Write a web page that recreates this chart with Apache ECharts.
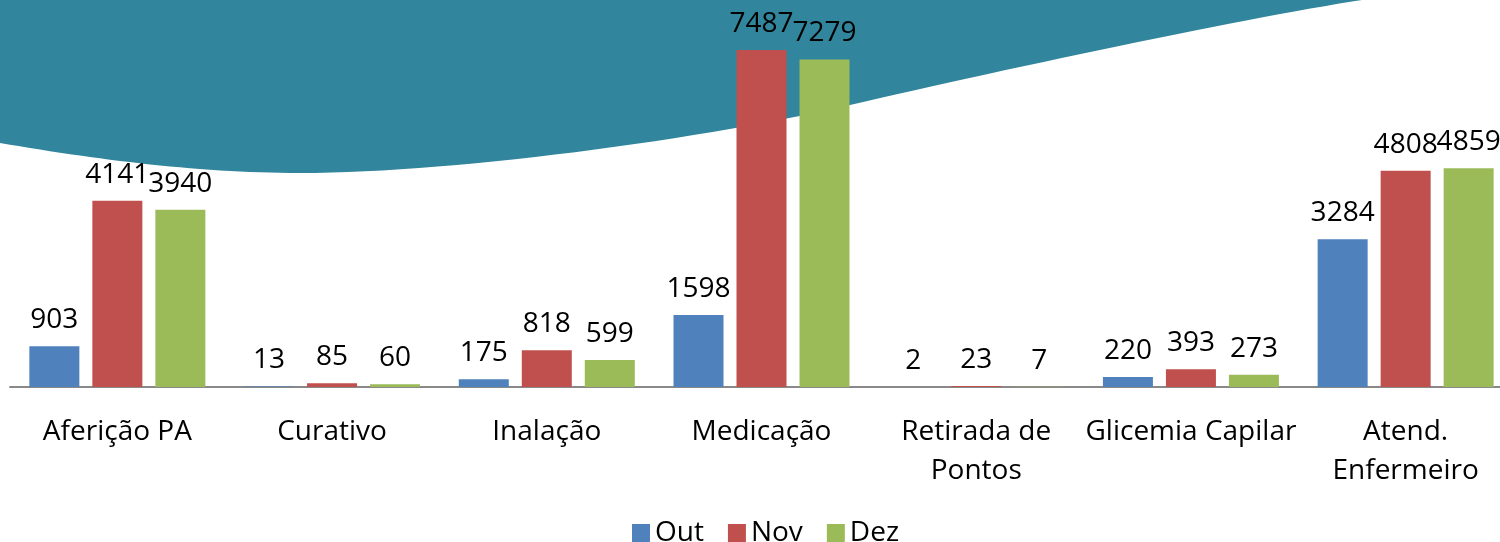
<!DOCTYPE html>
<html lang="pt">
<head>
<meta charset="UTF-8">
<title>Procedimentos de enfermagem</title>
<style>
  html, body { margin: 0; padding: 0; background: #ffffff; overflow: hidden; }
  #chart { width: 1520px; height: 542px; }
</style>
</head>
<body>
<div id="chart"></div>
<script src="https://cdn.jsdelivr.net/npm/echarts@6/dist/echarts.min.js"></script>
<script>
// data
var categories = ['Aferição PA', 'Curativo', 'Inalação', 'Medicação', 'Retirada de\nPontos', 'Glicemia Capilar', 'Atend.\nEnfermeiro'];
var seriesNames = ['Out', 'Nov', 'Dez'];
var outValues = [903, 13, 175, 1598, 2, 220, 3284];
var novValues = [4141, 85, 818, 7487, 23, 393, 4808];
var dezValues = [3940, 60, 599, 7279, 7, 273, 4859];
var colors = ['#4f81bd', '#c0504d', '#9bbb59'];

var FONT = '"Open Sans", "Noto Sans", sans-serif';

// decorative teal wave behind the plot, sampled from cubic beziers
function waveOutline() {
    var segs = [
        [[0, 143], [100, 160], [200, 173], [300, 173]],
        [[300, 173], [450, 173], [700, 140], [850, 105]],
        [[850, 105], [1000, 70], [1250, 17], [1362, 0]]
    ];
    var pts = [[0, 0]];
    segs.forEach(function (s) {
        for (var i = 0; i <= 30; i++) {
            var t = i / 30, u = 1 - t;
            var x = u*u*u*s[0][0] + 3*u*u*t*s[1][0] + 3*u*t*t*s[2][0] + t*t*t*s[3][0];
            var y = u*u*u*s[0][1] + 3*u*u*t*s[1][1] + 3*u*t*t*s[2][1] + t*t*t*s[3][1];
            pts.push([x, y]);
        }
    });
    return pts;
}

function barSeries(name, values, color) {
    return {
        name: name,
        type: 'bar',
        data: values,
        barWidth: 50,
        barGap: '26%',
        itemStyle: { color: color },
        label: {
            show: true,
            position: 'top',
            distance: 12,
            color: '#000',
            fontFamily: FONT,
            fontSize: 28
        }
    };
}

var chart = echarts.init(document.getElementById('chart'));
var option = {
    animation: false,
    backgroundColor: '#ffffff',
    graphic: [{
        type: 'polygon',
        z: -10,
        silent: true,
        shape: { points: waveOutline() },
        style: { fill: '#31859c' }
    }],
    legend: {
        data: seriesNames,
        left: 627,
        top: 514,
        icon: 'rect',
        itemWidth: 18,
        itemHeight: 18,
        itemGap: 24,
        textStyle: { fontFamily: FONT, fontSize: 28, color: '#000' }
    },
    grid: { left: 10, top: 27, width: 1503, height: 360, containLabel: false },
    xAxis: {
        type: 'category',
        data: categories,
        axisLine: { show: true, lineStyle: { color: '#898989', width: 2 } },
        axisTick: { show: false },
        axisLabel: {
            interval: 0,
            margin: 26,
            color: '#000',
            fontFamily: FONT,
            fontSize: 28,
            lineHeight: 39
        }
    },
    yAxis: {
        type: 'value',
        min: 0,
        max: 8000,
        show: false,
        splitLine: { show: false }
    },
    series: [
        barSeries(seriesNames[0], outValues, colors[0]),
        barSeries(seriesNames[1], novValues, colors[1]),
        barSeries(seriesNames[2], dezValues, colors[2])
    ]
};
chart.setOption(option);
</script>
</body>
</html>
